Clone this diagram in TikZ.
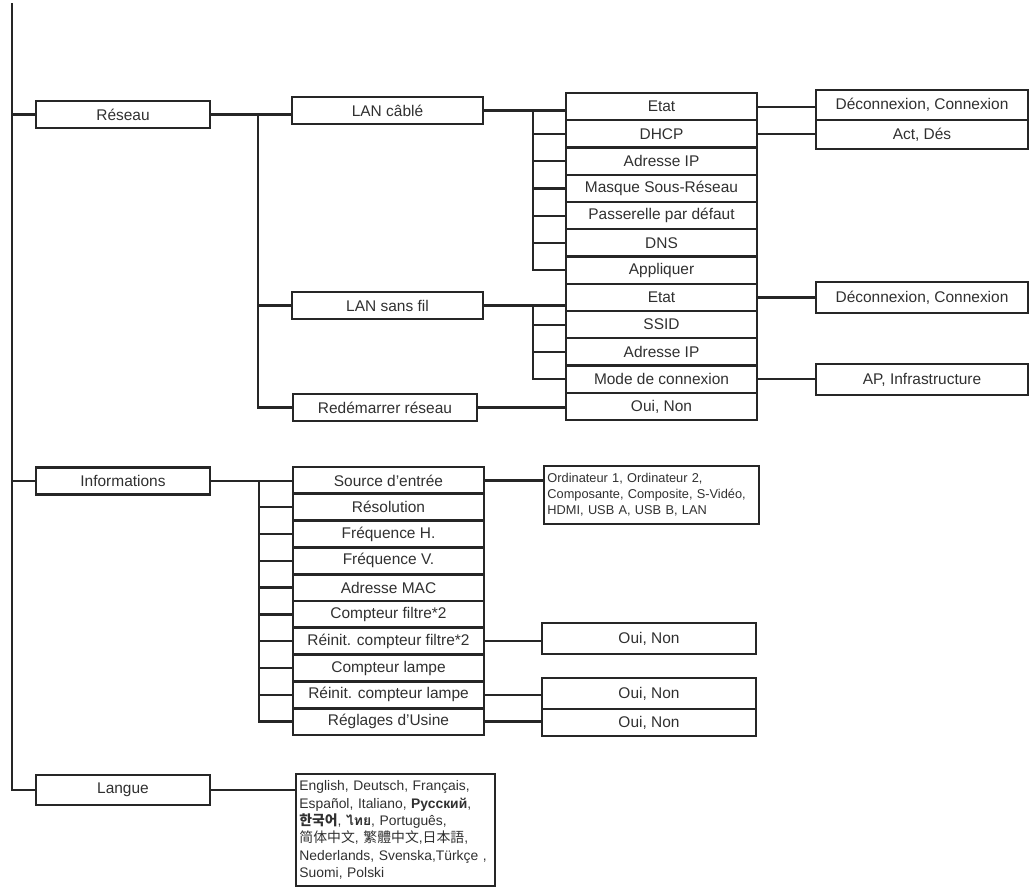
\documentclass[tikz,border=0pt]{standalone}
\usepackage{fontspec}
\setmainfont{Liberation Sans}
\newfontfamily\thaifont[Script=Thai]{Loma}
\newfontfamily\kofont{Noto Sans CJK KR}
\newfontfamily\scfont{Noto Sans CJK SC}
\newfontfamily\tcfont{Noto Sans CJK TC}
\newfontfamily\jpfont{Noto Sans CJK JP}
\usepackage{tikz}
\usetikzlibrary{calc}
\definecolor{cLine}{HTML}{262626}
\definecolor{cInk}{HTML}{303030}
\tikzset{
  mbox/.style={draw=cLine,line width=1.7pt,inner sep=0pt,minimum width=#1,minimum height=20.4pt,font=\fontsize{11.6}{13}\selectfont,text=cInk},
  mbox/.default=143.25pt,
  lbox/.style={draw=cLine,line width=1.7pt,anchor=north west,align=left,inner xsep=2.5pt,inner ysep=2pt,text=cInk},
  link/.style={draw=cLine,line width=1.7pt},
}

\begin{document}
\begin{tikzpicture}[x=0.75pt,y=-0.75pt]
    \useasboundingbox (0,0) rectangle (1034,890);
    % first level
    \node[mbox=130.5pt] (res) at (123,114.5) {Réseau};
    \node[mbox=130.5pt] (inf) at (123,481) {Informations};
    \node[mbox=130.5pt,minimum height=22.5pt] (lang) at (123,790) {Langue};
    \coordinate (top) at (12,3);
    \draw[link] (top) |- (lang.west);
    \draw[link] (top |- res.west) -- (res.west);
    \draw[link] (top |- inf.west) -- (inf.west);
    % Reseau
    \node[mbox] (lanc) at (387.5,110.5) {LAN câblé};
    \node[mbox] (lans) at (387.5,305.5) {LAN sans fil};
    \node[mbox=138pt] (red) at (385,407.5) {Redémarrer réseau};
    \coordinate (b1) at (258,0);
    \draw[link] (res.east) -- (res.east -| lanc.west);
    \draw[link] (b1 |- res.east) |- (red.west);
    \draw[link] (b1 |- lans.west) -- (lans.west);
    \foreach \t [count=\i] in {Etat, DHCP, Adresse IP, Masque Sous-Réseau, Passerelle par défaut, DNS, Appliquer, Etat, SSID, Adresse IP, Mode de connexion, {Oui, Non}}
      \node[mbox] (r\i) at (661.5,{79.4+27.25*\i}) {\t};
    \coordinate (b2) at (533,0);
    \draw[link] (lanc.east) -- (lanc.east -| r1.west);
    \draw[link] (b2 |- lanc.east) |- (r7.west);
    \foreach \i in {2,...,6} \draw[link] (b2 |- r\i.west) -- (r\i.west);
    \draw[link] (lans.east) -- (lans.east -| r8.west);
    \draw[link] (b2 |- lans.east) |- (r11.west);
    \foreach \i in {9,10} \draw[link] (b2 |- r\i.west) -- (r\i.west);
    \draw[link] (red.east) -- (red.east -| r12.west);
    \foreach \n/\y/\h/\t in {d1/105/22.5pt/{Déconnexion, Connexion}, d2/134.5/21.75pt/{Act, Dés}, d3/297.5/23.25pt/{Déconnexion, Connexion}, d4/379.5/23.25pt/{AP, Infrastructure}}
      \node[mbox=159pt,minimum height=\h] (\n) at (922,\y) {\t};
    \foreach \a/\b in {r1/d1, r2/d2, r8/d3, r11/d4} \draw[link] (\a.east) -- (\a.east -| \b.west);
    % Informations
    \foreach \t [count=\i] in {Source d'entrée, Résolution, Fréquence H., Fréquence V., Adresse MAC, Compteur filtre*2, Réinit. compteur filtre*2, Compteur lampe, Réinit. compteur lampe, Réglages d'Usine}
      \node[mbox] (s\i) at (388.5,{453.6+26.8*\i}) {\t};
    \coordinate (b3) at (259,0);
    \draw[link] (inf.east) -- (inf.east -| s1.west);
    \draw[link] (b3 |- inf.east) |- (s10.west);
    \foreach \i in {2,...,9} \draw[link] (b3 |- s\i.west) -- (s\i.west);
    \node[lbox,text width=156pt,minimum height=43.5pt,font=\fontsize{9.6}{12}\selectfont] (src) at (543,465)
      {Ordinateur 1, Ordinateur 2,\\Composante, Composite, S-Vidéo,\\HDMI, USB A, USB B, LAN};
    \draw[link] (s1.east) -- (s1.east -| src.west);
    \foreach \n/\y/\h in {o1/638.5/23.25pt, o2/693.5/23.25pt, o3/722.5/20.25pt}
      \node[mbox=160.5pt,minimum height=\h] (\n) at (649,\y) {Oui, Non};
    \foreach \a/\b in {s7/o1, s9/o2, s10/o3} \draw[link] (\a.east) -- (\a.east -| \b.west);
    % Langue
    \node[lbox,text width=144pt,minimum height=84pt,font=\fontsize{10.4}{13}\selectfont] (lng) at (295,773)
      {English, Deutsch, Français,\\
       Español, Italiano, {\bfseries Русский},\\
       {\kofont\bfseries 한국어}, {\thaifont\bfseries ไทย}, Português,\\
       {\scfont 简体中文}, {\tcfont 繁體中文},{\jpfont 日本語},\\
       Nederlands, Svenska,Türkçe ,\\
       Suomi, Polski};
    \draw[link] (lang.east) -- (lang.east -| lng.west);
\end{tikzpicture}
\end{document}
